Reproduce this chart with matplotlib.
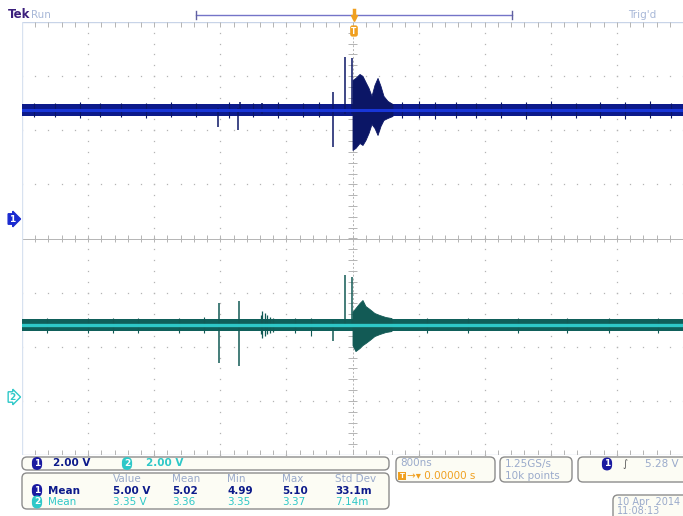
import matplotlib.pyplot as plt
import numpy as np
from matplotlib.patches import FancyBboxPatch

# time axis in microseconds (800 ns/div, 10 div), vertical in screen divisions
# ---- channel 1 ----
ch1_level = 2.375
ch1_half = 0.11
ch1_spike_t = [-1.63, -1.38, -1.36, -1.09, -0.24, -0.085, -0.012]
ch1_spike_hi = [2.42, 2.42, 2.52, 2.50, 2.71, 3.355, 3.336]
ch1_spike_lo = [2.06, 2.00, 2.35, 2.30, 1.69, 2.30, 2.30]
ch1_burst_t = [0.0, 0.036, 0.085, 0.121, 0.157, 0.194, 0.23, 0.266, 0.303, 0.339, 0.375, 0.424, 0.484]
ch1_burst_hi = [2.93, 2.967, 3.04, 3.004, 2.893, 2.782, 2.634, 2.837, 2.967, 2.819, 2.634, 2.542, 2.486]
ch1_burst_lo = [1.636, 1.673, 1.765, 1.728, 1.82, 1.95, 2.116, 2.043, 1.913, 2.08, 2.19, 2.227, 2.264]
ch1_tick_t = [-3.85, -3.6, -3.3, -3.05, -2.8, -2.5, -2.2, -1.9, -1.5, -1.2, -0.9, -0.6, -0.4,
              0.6, 0.8, 1.0, 1.25, 1.5, 1.8, 2.1, 2.4, 2.7, 3.0, 3.3, 3.6, 3.85]
ch1_tick_hi = [2.51, 2.50, 2.52, 2.50, 2.51, 2.50, 2.52, 2.51, 2.52, 2.50, 2.53, 2.51, 2.52,
               2.53, 2.54, 2.52, 2.53, 2.51, 2.53, 2.52, 2.54, 2.51, 2.53, 2.52, 2.54, 2.51]
ch1_tick_lo = [2.24, 2.25, 2.23, 2.24, 2.25, 2.23, 2.24, 2.25, 2.23, 2.24, 2.23, 2.25, 2.24,
               2.22, 2.23, 2.21, 2.23, 2.22, 2.23, 2.21, 2.23, 2.22, 2.23, 2.21, 2.23, 2.22]

# ---- channel 2 ----
ch2_level = -1.60
ch2_half = 0.11
ch2_spike_t = [-1.62, -1.37, -0.24, -0.085, -0.012]
ch2_spike_hi = [-1.19, -1.155, -1.50, -0.675, -0.712]
ch2_spike_lo = [-2.30, -2.357, -1.895, -1.60, -1.60]
ch2_small_t = [-1.11, -1.09, -1.06, -1.03, -1.00, -0.96]
ch2_small_hi = [-1.42, -1.34, -1.38, -1.42, -1.45, -1.47]
ch2_small_lo = [-1.76, -1.84, -1.80, -1.76, -1.74, -1.72]
ch2_burst_t = [0.0, 0.036, 0.085, 0.121, 0.157, 0.206, 0.266, 0.327, 0.40, 0.472]
ch2_burst_hi = [-1.353, -1.285, -1.192, -1.137, -1.248, -1.303, -1.377, -1.414, -1.451, -1.47]
ch2_burst_lo = [-1.969, -2.08, -2.024, -1.969, -1.932, -1.876, -1.802, -1.765, -1.728, -1.71]
ch2_tick_t = [-3.7, -3.2, -2.9, -2.6, -2.1, -1.8, -0.7, -0.5, 0.9, 1.4, 2.0, 2.6, 3.1, 3.7]
ch2_tick_hi = [-1.46, -1.47, -1.46, -1.47, -1.46, -1.45, -1.47, -1.46, -1.47, -1.46, -1.47, -1.46, -1.47, -1.46]
ch2_tick_lo = [-1.74, -1.75, -1.74, -1.75, -1.74, -1.74, -1.75, -1.80, -1.74, -1.74, -1.75, -1.74, -1.74, -1.75]

# readouts
meas_cols = ["Value", "Mean", "Min", "Max", "Std Dev"]
meas_ch1 = ["5.00 V", "5.02", "4.99", "5.10", "33.1m"]
meas_ch2 = ["3.35 V", "3.36", "3.35", "3.37", "7.14m"]

NAVY = "#0c1a8a"
NAVY_IN = "#1836d8"
SPIKE1 = "#0b1666"
TEAL = "#0f5f5a"
CYAN = "#2ec8c8"
SPIKE2 = "#125a55"
GRID = "#b4b4b4"
LABEL = "#9aaacb"
ORANGE = "#f0a020"

fig = plt.figure(figsize=(6.83, 5.16), dpi=100)
fig.patch.set_facecolor("white")

# ---------------- scope screen ----------------
ax = fig.add_axes([22 / 683, 61 / 516, 661 / 683, 433 / 516])
ax.set_xlim(-4, 4)
ax.set_ylim(-4, 4)
ax.axis("off")

# dotted graticule
for gx in np.arange(-3.2, 3.3, 0.8):
    if abs(gx) > 1e-6:
        yy = np.arange(-4, 4.01, 0.2)
        ax.plot(np.full_like(yy, gx), yy, ls="none", marker="s", ms=0.9, color=GRID, mec="none")
for gy in [-3, -2, -1, 1, 2, 3]:
    xx = np.arange(-4, 4.01, 0.16)
    ax.plot(xx, np.full_like(xx, gy), ls="none", marker="s", ms=0.9, color=GRID, mec="none")
# centre cross with ticks
ax.plot([-4, 4], [0, 0], color=GRID, lw=0.7)
ax.plot([0, 0], [-4, 4], color=GRID, lw=0.7, ls=(0, (2, 2)))
tx = np.arange(-4, 4.01, 0.16)
ax.vlines(tx, -0.06, 0.06, color=GRID, lw=0.7)
ty = np.arange(-4, 4.01, 0.2)
ax.hlines(ty, -0.05, 0.05, color=GRID, lw=0.7)
# top / bottom rulers
ax.plot([-4, 4], [4, 4], color="#c8d4e8", lw=1.0)
ax.plot([-4, 4], [-4, -4], color="#c8d4e8", lw=1.0)
ax.vlines(tx, 3.9, 4, color=GRID, lw=0.7)
ax.vlines(tx, -4, -3.9, color=GRID, lw=0.7)
ax.plot([-4, -4], [-4, 4], color="#d8e2f0", lw=1.0)

# channel 1 trace
ax.fill_between([-4, 4], ch1_level - ch1_half, ch1_level + ch1_half, color=NAVY, lw=0, zorder=3)
ax.vlines(ch1_tick_t, ch1_tick_lo, ch1_tick_hi, color=SPIKE1, lw=0.8, zorder=3)
ax.fill_between(ch1_burst_t, ch1_burst_lo, ch1_burst_hi, color=SPIKE1, lw=0.6, zorder=4)
ax.vlines(ch1_spike_t, ch1_spike_lo, ch1_spike_hi, color=SPIKE1, lw=1.1, zorder=4)
ax.plot([-4, 4], [ch1_level, ch1_level], color=NAVY_IN, lw=2.2, zorder=5)

# channel 2 trace
ax.fill_between([-4, 4], ch2_level - ch2_half, ch2_level + ch2_half, color=TEAL, lw=0, zorder=3)
ax.vlines(ch2_tick_t, ch2_tick_lo, ch2_tick_hi, color=SPIKE2, lw=0.8, zorder=3)
ax.vlines(ch2_small_t, ch2_small_lo, ch2_small_hi, color=SPIKE2, lw=0.9, zorder=4)
ax.fill_between(ch2_burst_t, ch2_burst_lo, ch2_burst_hi, color=SPIKE2, lw=0.6, zorder=4)
ax.vlines(ch2_spike_t, ch2_spike_lo, ch2_spike_hi, color=SPIKE2, lw=1.1, zorder=4)
ax.plot([-4, 4], [ch2_level, ch2_level], color=CYAN, lw=2.4, zorder=5)

# ---------------- HUD in pixel coordinates ----------------
hud = fig.add_axes([0, 0, 1, 1], zorder=10)
hud.set_xlim(0, 683)
hud.set_ylim(516, 0)
hud.axis("off")
hud.patch.set_alpha(0)

def box(x0, y0, x1, y1):
    hud.add_patch(FancyBboxPatch((x0, y0), x1 - x0, y1 - y0,
                                 boxstyle="round,pad=0,rounding_size=5",
                                 fc="#fcfcf4", ec="#8c8c8c", lw=1.0))

def pill(x, y, s, fc):
    hud.text(x, y, s, color="white", fontsize=6.5, fontweight="bold", ha="center", va="center",
             bbox=dict(boxstyle="round,pad=0.22,rounding_size=0.6", fc=fc, ec="none"))

FS = 7.5
hud.text(8, 15, "Tek", color="#3b1f7c", fontsize=8.5, fontweight="bold", va="center")
hud.text(31, 15, "Run", color="#a8b8d8", fontsize=7.5, va="center")
hud.text(628, 15, "Trig'd", color="#a8b8d8", fontsize=7.5, va="center")

# trigger window bar
hud.plot([196, 512], [15, 15], color="#7474c8", lw=1.0)
hud.plot([196, 196], [11, 19], color="#6060a0", lw=1.0)
hud.plot([512, 512], [11, 19], color="#6060a0", lw=1.0)
hud.plot([354], [18], marker="v", ms=4, color=ORANGE)
hud.plot([354, 354], [10, 17], color=ORANGE, lw=2.5)
hud.text(354, 31, "T", color="white", fontsize=5.5, fontweight="bold", ha="center", va="center",
         bbox=dict(boxstyle="round,pad=0.15,rounding_size=0.3", fc=ORANGE, ec="none"))

# ground markers
hud.text(12, 219, "1", color="white", fontsize=6.5, fontweight="bold", ha="center", va="center",
         bbox=dict(boxstyle="rarrow,pad=0.08", fc="#1a2ad0", ec="#1a2ad0"))
hud.text(12, 397, "2", color=CYAN, fontsize=6.5, fontweight="bold", ha="center", va="center",
         bbox=dict(boxstyle="rarrow,pad=0.08", fc="white", ec=CYAN))

# vertical scale box
box(22, 457, 389, 470)
pill(37, 463.5, "1", "#1a1aa0")
hud.text(53, 463.5, "2.00 V", color=NAVY, fontsize=FS, fontweight="bold", va="center")
pill(127, 463.5, "2", CYAN)
hud.text(146, 463.5, "2.00 V", color=CYAN, fontsize=FS, fontweight="bold", va="center")

# measurement box
box(22, 473, 389, 509)
col_x = [113, 172, 227, 282, 335]
for cx, h, v1, v2 in zip(col_x, meas_cols, meas_ch1, meas_ch2):
    hud.text(cx, 478.5, h, color=LABEL, fontsize=FS, va="center")
    hud.text(cx, 490.5, v1, color=NAVY, fontsize=FS, fontweight="bold", va="center")
    hud.text(cx, 502, v2, color=CYAN, fontsize=FS, va="center")
pill(37, 490.5, "1", "#1a1aa0")
hud.text(48, 490.5, "Mean", color=NAVY, fontsize=FS, fontweight="bold", va="center")
pill(37, 502, "2", CYAN)
hud.text(48, 502, "Mean", color=CYAN, fontsize=FS, va="center")

# horizontal box
box(396, 457, 495, 482)
hud.text(400, 463.5, "800ns", color=LABEL, fontsize=FS, va="center")
hud.text(402, 476, "T", color="white", fontsize=5, fontweight="bold", ha="center", va="center",
         bbox=dict(boxstyle="square,pad=0.15", fc=ORANGE, ec="none"))
hud.text(407, 476, "\u2192\u25be 0.00000 s", color=ORANGE, fontsize=FS, va="center")

box(500, 457, 572, 482)
hud.text(505, 463.5, "1.25GS/s", color=LABEL, fontsize=FS, va="center")
hud.text(505, 476, "10k points", color=LABEL, fontsize=FS, va="center")

box(578, 457, 690, 482)
pill(607, 464, "1", "#1a1aa0")
hud.text(625, 464, "\u222b", color="#555555", fontsize=7, va="center", ha="center")
hud.text(645, 464, "5.28 V", color=LABEL, fontsize=FS, va="center")

box(613, 495, 690, 525)
hud.text(617, 502, "10 Apr  2014", color=LABEL, fontsize=7, va="center")
hud.text(617, 510.5, "11:08:13", color=LABEL, fontsize=7, va="center")

fig.savefig("out.png", dpi=100)
